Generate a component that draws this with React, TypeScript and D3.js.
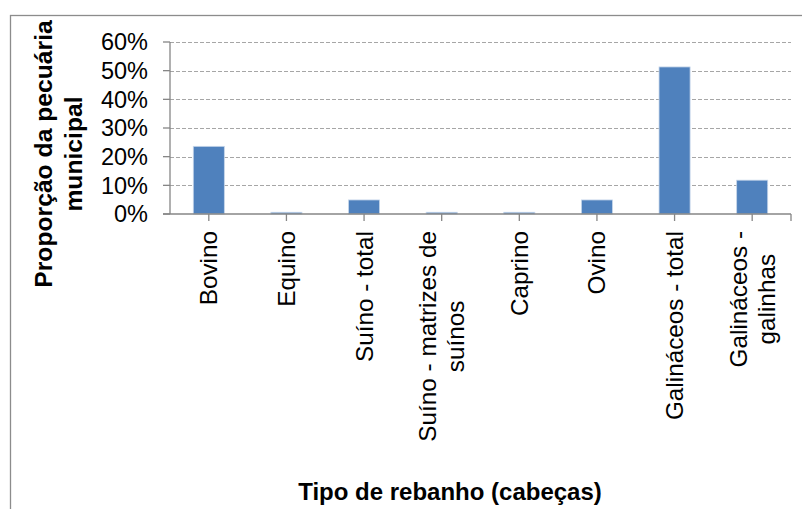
import React, { useEffect, useRef } from "react";
import * as d3 from "d3";

const categories: string[][] = [
  ["Bovino"],
  ["Equino"],
  ["Suíno - total"],
  ["Suíno - matrizes de", "suínos"],
  ["Caprino"],
  ["Ovino"],
  ["Galináceos - total"],
  ["Galináceos -", "galinhas"],
];
const values: number[] = [0.236, 0.006, 0.049, 0.006, 0.006, 0.049, 0.513, 0.118];
const yTicks: number[] = [0, 0.1, 0.2, 0.3, 0.4, 0.5, 0.6];
const yTitle: string[] = ["Proporção da pecuária", "municipal"];
const xTitle = "Tipo de rebanho (cabeças)";

const W = 802;
const H = 509;
const FONT = "'Liberation Sans', Arial, sans-serif";

export default function App() {
  const ref = useRef<SVGSVGElement>(null);

  useEffect(() => {
    const svg = d3.select(ref.current);
    svg.selectAll("*").remove();

    const left = 170, right = 791, top = 42, bottom = 214;

    const x = d3
      .scaleBand<number>()
      .domain(d3.range(categories.length))
      .range([left, right])
      .paddingInner(0.6)
      .paddingOuter(0.3);
    const y = d3.scaleLinear().domain([0, 0.6]).range([bottom, top]);

    svg.append("rect").attr("width", W).attr("height", H).attr("fill", "#fff");

    // outer frame
    svg
      .append("rect")
      .attr("x", 10.5)
      .attr("y", 15.5)
      .attr("width", 900)
      .attr("height", 600)
      .attr("fill", "none")
      .attr("stroke", "#8c8c8c")
      .attr("stroke-width", 1.3);

    // gridlines
    svg
      .append("g")
      .selectAll("line")
      .data(yTicks.filter((t) => t > 0))
      .join("line")
      .attr("x1", left)
      .attr("x2", right)
      .attr("y1", (d) => Math.round(y(d)) + 0.5)
      .attr("y2", (d) => Math.round(y(d)) + 0.5)
      .attr("stroke", "#a6a6a6")
      .attr("stroke-width", 1)
      .attr("stroke-dasharray", "4,2");

    // bars
    svg
      .append("g")
      .selectAll("rect")
      .data(values)
      .join("rect")
      .attr("x", (_, i) => x(i)!)
      .attr("width", x.bandwidth())
      .attr("y", (d) => y(d))
      .attr("height", (d) => y(0) - y(d))
      .attr("fill", "#4f81bd")
      .attr("stroke", "#c6d6ea")
      .attr("stroke-width", 0.8);

    // y axis line and ticks
    const ax = svg.append("g").attr("stroke", "#868686").attr("stroke-width", 1.3);
    ax.append("line").attr("x1", left).attr("x2", left).attr("y1", top).attr("y2", bottom);
    ax
      .selectAll("line.yt")
      .data(yTicks)
      .join("line")
      .attr("class", "yt")
      .attr("x1", left - 7)
      .attr("x2", left)
      .attr("y1", (d) => y(d))
      .attr("y2", (d) => y(d));
    // x axis
    ax.append("line").attr("x1", left - 7).attr("x2", right).attr("y1", bottom).attr("y2", bottom);
    ax
      .selectAll("line.xt")
      .data(d3.range(categories.length))
      .join("line")
      .attr("class", "xt")
      .attr("x1", (i) => x(i)! + x.bandwidth() / 2)
      .attr("x2", (i) => x(i)! + x.bandwidth() / 2)
      .attr("y1", bottom)
      .attr("y2", bottom + 7);
    ax.append("line").attr("x1", right).attr("x2", right).attr("y1", bottom).attr("y2", bottom + 7);

    // y tick labels
    svg
      .append("g")
      .selectAll("text")
      .data(yTicks)
      .join("text")
      .attr("x", 148)
      .attr("y", (d) => y(d))
      .attr("dy", "0.36em")
      .attr("text-anchor", "end")
      .attr("font-family", FONT)
      .attr("font-size", 23.5)
      .attr("fill", "#000")
      .text((d) => d3.format(".0%")(d));

    // x labels (rotated, multi-line centered, block top at y=231)
    const labelTop = 231;
    const lineGap = 28;
    categories.forEach((lines, i) => {
      const cx = x(i)! + x.bandwidth() / 2;
      const g = svg.append("g");
      const texts = lines.map((ln) =>
        g
          .append("text")
          .attr("font-family", FONT)
          .attr("font-size", 24.3)
          .attr("fill", "#000")
          .attr("text-anchor", "middle")
          .text(ln)
      );
      const maxW = d3.max(texts, (t) => (t.node() as SVGTextElement).getComputedTextLength()) || 0;
      const centerY = labelTop + maxW / 2;
      const n = lines.length;
      texts.forEach((t, k) => {
        const off = (k - (n - 1) / 2) * lineGap;
        const bx = cx + off + 8.5;
        t.attr("transform", `translate(${bx},${centerY}) rotate(-90)`);
      });
    });

    // y title
    yTitle.forEach((ln, k) => {
      svg
        .append("text")
        .attr("transform", `translate(${52 + k * 29.5},154) rotate(-90)`)
        .attr("text-anchor", "middle")
        .attr("font-family", FONT)
        .attr("font-weight", "bold")
        .attr("font-size", 24.7)
        .attr("fill", "#000")
        .text(ln);
    });

    // x title
    svg
      .append("text")
      .attr("x", 450)
      .attr("y", 500)
      .attr("text-anchor", "middle")
      .attr("font-family", FONT)
      .attr("font-weight", "bold")
      .attr("font-size", 24)
      .attr("fill", "#000")
      .text(xTitle);
  }, []);

  return (
    <svg
      ref={ref}
      width={W}
      height={H}
      style={{ position: "absolute", left: 0, top: 0, display: "block" }}
    />
  );
}
